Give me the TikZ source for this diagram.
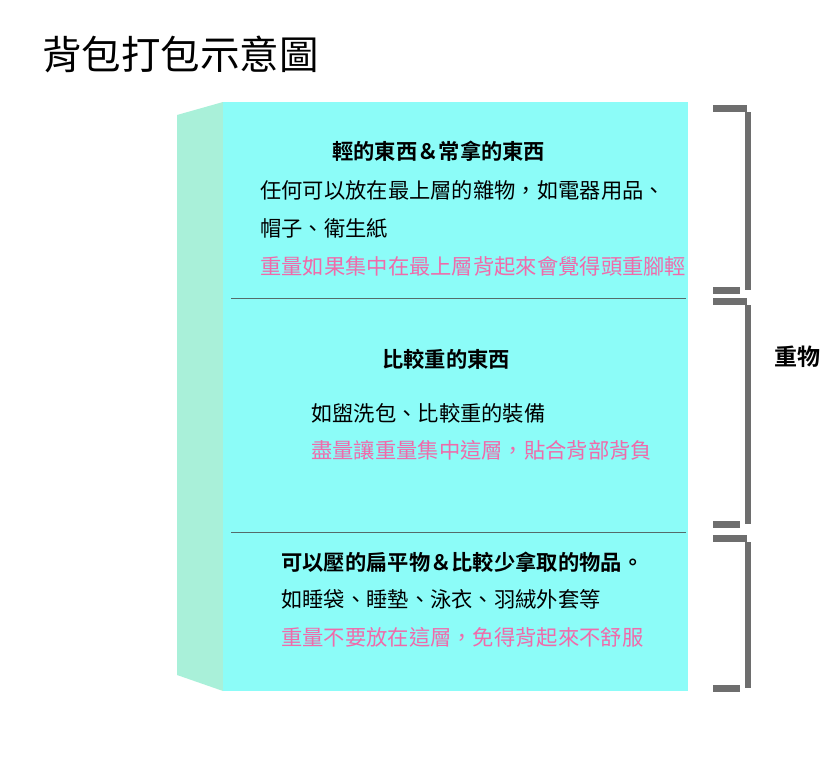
\documentclass[tikz,border=0pt]{standalone}
\usepackage{fontspec}
\setmainfont{Noto Sans CJK TC}[BoldFont=* Bold]
\usepackage{xcolor}
\definecolor{frontcyan}{HTML}{8CFCF8}
\definecolor{sidemint}{HTML}{A9F0D9}
\definecolor{rulegray}{HTML}{556B6B}
\definecolor{bargray}{HTML}{6E6E6E}
\definecolor{notepink}{HTML}{F06AAA}

\begin{document}
\begin{tikzpicture}[x=1pt, y=-1pt,
    every node/.style={inner sep=0pt, anchor=west},
    title/.style={font=\fontsize{39.5pt}{39.5pt}\selectfont},
    head/.style={font=\fontsize{21.3pt}{21.3pt}\selectfont\bfseries},
    body/.style={font=\fontsize{21.3pt}{21.3pt}\selectfont},
    note/.style={body, text=notepink},
    side/.style={font=\fontsize{23pt}{23pt}\selectfont\bfseries}]
            \useasboundingbox (0, 0) rectangle (840, 763);
            % the pack: side face and front face
            \fill[sidemint] (177, 115) -- (223, 102) -- (223, 691) -- (177, 675) -- cycle;
            \fill[frontcyan] (223, 102) rectangle (688, 691);
            \draw[rulegray, line width=1pt] (231, 298) -- (686, 298);
            \draw[rulegray, line width=1pt] (231, 532) -- (686, 532);
            % brackets on the right
            \foreach \top/\bot in {105/294, 298/528, 535/692}{
                \fill[bargray] (713, \top) rectangle (747, \top+7);
                \fill[bargray] (745, \top+7) rectangle (751, \bot-4);
                \fill[bargray] (713, \bot-7) rectangle (740, \bot);
            }
            \node[title] (title) at (42, 54) {背包打包示意圖};
            % top layer
            \node[head] (tophead) at (332, 151) {輕的東西＆常拿的東西};
            \node[body] (topline1) at (260, 190) {任何可以放在最上層的雜物，如電器用品、};
            \node[body] (topline2) at (260, 228) {帽子、衛生紙};
            \node[note] (topnote) at (260, 266) {重量如果集中在最上層背起來會覺得頭重腳輕};
            % middle layer
            \node[head] (midhead) at (382, 359) {比較重的東西};
            \node[body] (midline) at (311, 413) {如盥洗包、比較重的裝備};
            \node[note] (midnote) at (311, 450) {盡量讓重量集中這層，貼合背部背負};
            % bottom layer
            \node[head] (bothead) at (281, 562) {可以壓的扁平物＆比較少拿取的物品。};
            \node[body] (botline) at (281, 600) {如睡袋、睡墊、泳衣、羽絨外套等};
            \node[note] (botnote) at (281, 637) {重量不要放在這層，免得背起來不舒服};
            \node[side] (heavy) at (774, 357) {重物};
        \end{tikzpicture}
\end{document}
